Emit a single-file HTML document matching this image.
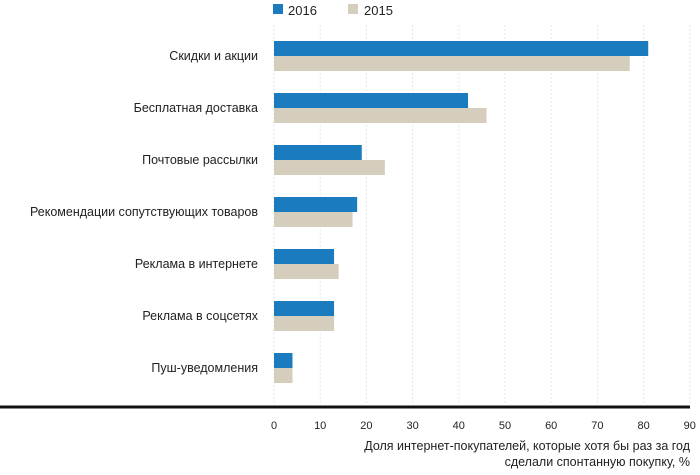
<!DOCTYPE html>
<html><head><meta charset="utf-8"><style>
body{margin:0;background:#fff;font-family:"Liberation Sans",sans-serif;}
svg text{font-family:"Liberation Sans",sans-serif;fill:#222;}
</style></head><body>
<svg id="c" width="700" height="470" xmlns="http://www.w3.org/2000/svg"></svg>
<script>
const categories=["Скидки и акции","Бесплатная доставка","Почтовые рассылки","Рекомендации сопутствующих товаров","Реклама в интернете","Реклама в соцсетях","Пуш-уведомления"];
const values2016=[81,42,19,18,13,13,4];
const values2015=[77,46,24,17,14,13,4];
const ticks=[0,10,20,30,40,50,60,70,80,90];
const NS="http://www.w3.org/2000/svg";
const svg=document.getElementById('c');
const x=v=>274+v*4.62;
const yTop=i=>41+i*52;
function mk(t,a){const e=document.createElementNS(NS,t);for(const k in a)e.setAttribute(k,a[k]);svg.appendChild(e);return e;}
ticks.forEach(t=>{
  const g=mk('line',{x1:x(t),x2:x(t),y1:25,y2:405,stroke:'#e6e6e6','stroke-dasharray':'2,2'});
  
  
  const l=mk('text',{x:x(t),y:429,'text-anchor':'middle','font-size':'11'});
  l.textContent=t;
  
  
});
categories.forEach((c,i)=>{
  const b1=mk('rect',{x:x(0),y:yTop(i),width:x(values2016[i])-x(0),height:15,fill:'#1b7bbf'});
  
  
  const b2=mk('rect',{x:x(0),y:yTop(i)+15,width:x(values2015[i])-x(0),height:15,fill:'#d5cebc'});
  
  
  const t=mk('text',{x:258,y:yTop(i)+19,'text-anchor':'end','font-size':'12.5'});
  t.textContent=c;
  
  
});
const ax=mk('line',{x1:0,x2:690,y1:407,y2:407,stroke:'#111','stroke-width':3});


const t1=mk('text',{x:690,y:450,'text-anchor':'end','font-size':'12.5'});
t1.textContent='Доля интернет-покупателей, которые хотя бы раз за год';


const t2=mk('text',{x:690,y:466,'text-anchor':'end','font-size':'12.5'});
t2.textContent='сделали спонтанную покупку, %';


const l1=mk('rect',{x:273,y:4,width:10,height:10,fill:'#1b7bbf'});


const lt1=mk('text',{x:288,y:15,'font-size':'13'});
lt1.textContent='2016';


const l2=mk('rect',{x:348,y:4,width:10,height:10,fill:'#d5cebc'});


const lt2=mk('text',{x:364,y:15,'font-size':'13'});
lt2.textContent='2015';


</script>
</body></html>
